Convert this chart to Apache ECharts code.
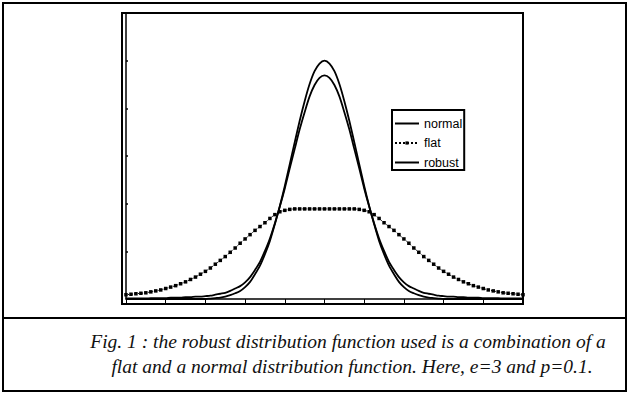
<!DOCTYPE html>
<html>
<head>
<meta charset="utf-8">
<script src="https://cdn.jsdelivr.net/npm/echarts@6/dist/echarts.min.js"></script>
<style>
  html, body { margin: 0; padding: 0; background: #fff; }
  #main { width: 629px; height: 394px; }
</style>
</head>
<body>
<div id="main"></div>
<script>
// x positions (units of the hidden x axis), step 0.125
const xValues = [
  -5, -4.875, -4.75, -4.625, -4.5, -4.375, -4.25, -4.125, -4, -3.875, -3.75, -3.625, -3.5, -3.375, -3.25, -3.125,
  -3, -2.875, -2.75, -2.625, -2.5, -2.375, -2.25, -2.125, -2, -1.875, -1.75, -1.625, -1.5, -1.375, -1.25, -1.125,
  -1, -0.875, -0.75, -0.625, -0.5, -0.375, -0.25, -0.125, 0,
  0.125, 0.25, 0.375, 0.5, 0.625, 0.75, 0.875, 1, 1.125, 1.25, 1.375, 1.5, 1.625, 1.75, 1.875,
  2, 2.125, 2.25, 2.375, 2.5, 2.625, 2.75, 2.875, 3, 3.125, 3.25, 3.375, 3.5, 3.625, 3.75, 3.875,
  4, 4.125, 4.25, 4.375, 4.5, 4.625, 4.75, 4.875, 5
];

const normalValues = [
  0, 0, 0, 0, 0, 0, 0, 0, 0, 0, 0, 0, 0, 0, 0, 0, 0,
  0.01, 0.02, 0.03, 0.05, 0.08, 0.12, 0.17, 0.25, 0.36, 0.52, 0.70, 0.94, 1.22, 1.57, 1.95,
  2.37, 2.83, 3.29, 3.74, 4.15, 4.51, 4.78, 4.94,
  5.00,
  4.94, 4.78, 4.51, 4.15, 3.74, 3.29, 2.83, 2.37,
  1.95, 1.57, 1.22, 0.94, 0.70, 0.52, 0.36, 0.25, 0.17, 0.12, 0.08, 0.05, 0.03, 0.02, 0.01,
  0, 0, 0, 0, 0, 0, 0, 0, 0, 0, 0, 0, 0, 0, 0, 0, 0
];

const flatValues = [
  0.09, 0.10, 0.11, 0.12, 0.13, 0.15, 0.17, 0.19, 0.22, 0.25, 0.28, 0.32, 0.36, 0.41, 0.46, 0.52,
  0.58, 0.65, 0.73, 0.81, 0.89, 0.98, 1.07, 1.17, 1.26, 1.35, 1.44, 1.52, 1.60, 1.69, 1.77, 1.83,
  1.86, 1.88, 1.89, 1.89, 1.89, 1.89, 1.89, 1.89, 1.89,
  1.89, 1.89, 1.89, 1.89, 1.89, 1.89, 1.88, 1.86, 1.83, 1.77, 1.69, 1.60, 1.52, 1.44, 1.35,
  1.26, 1.17, 1.07, 0.98, 0.89, 0.81, 0.73, 0.65, 0.58, 0.52, 0.46, 0.41, 0.36, 0.32, 0.28, 0.25,
  0.22, 0.19, 0.17, 0.15, 0.13, 0.12, 0.11, 0.10, 0.09
];

const robustValues = [
  0.01, 0.01, 0.01, 0.01, 0.01, 0.02, 0.02, 0.02, 0.02, 0.03, 0.03, 0.03, 0.04, 0.04, 0.05, 0.05,
  0.06, 0.07, 0.09, 0.11, 0.13, 0.17, 0.22, 0.27, 0.35, 0.46, 0.61, 0.78, 1.01, 1.27, 1.59, 1.94,
  2.32, 2.74, 3.15, 3.56, 3.92, 4.25, 4.49, 4.64, 4.69,
  4.64, 4.49, 4.25, 3.92, 3.56, 3.15, 2.74, 2.32, 1.94, 1.59, 1.27, 1.01, 0.78, 0.61, 0.46,
  0.35, 0.27, 0.22, 0.17, 0.13, 0.11, 0.09, 0.07, 0.06, 0.05, 0.05, 0.04, 0.04, 0.03, 0.03, 0.03,
  0.02, 0.02, 0.02, 0.02, 0.01, 0.01, 0.01, 0.01, 0.01
];

const seriesNames = ['normal', 'flat', 'robust'];
const captionLines = [
  'Fig. 1 : the robust distribution function used is a combination of a',
  'flat and a normal distribution function. Here, e=3 and p=0.1.'
];

function pairs(ys) {
  return xValues.map((x, i) => [x, ys[i]]);
}

const captionFont = 'italic 19.5px "Liberation Serif", "Times New Roman", serif';

const chart = echarts.init(document.getElementById('main'), null, {renderer: 'svg'});

chart.setOption({
  animation: false,
  backgroundColor: '#fff',
  grid: {left: 126, right: 106, top: 13, bottom: 95},
  xAxis: {
    type: 'value',
    min: -5,
    max: 5,
    interval: 1,
    axisLine: {show: true, onZero: false, lineStyle: {color: '#000', width: 1.5}},
    axisTick: {show: true, inside: false, length: 4, lineStyle: {color: '#000', width: 1}},
    axisLabel: {show: false},
    splitLine: {show: false}
  },
  yAxis: {
    type: 'value',
    min: 0,
    max: 6,
    interval: 1,
    axisLine: {show: true, onZero: false, lineStyle: {color: '#000', width: 1.5}},
    axisTick: {show: true, inside: true, length: 2, lineStyle: {color: '#000', width: 1.5}},
    axisLabel: {show: false},
    splitLine: {show: false}
  },
  legend: {
    data: [
      {name: seriesNames[0], itemStyle: {opacity: 0}},
      {name: seriesNames[1]},
      {name: seriesNames[2], itemStyle: {opacity: 0}}
    ],
    orient: 'vertical',
    left: 392,
    top: 110,
    padding: [7, 2, 1, 2],
    itemGap: 6.5,
    itemWidth: 24,
    itemHeight: 4,
    borderColor: '#000',
    borderWidth: 2,
    selectedMode: false,
    textStyle: {fontFamily: 'Liberation Sans, Arial, sans-serif', fontSize: 12.5, color: '#000'}
  },
  series: [
    {
      name: seriesNames[0],
      type: 'line',
      data: pairs(normalValues),
      symbol: 'none',
      smooth: 0.3,
      lineStyle: {color: '#000', width: 1.8},
      itemStyle: {color: '#000'},
      z: 3
    },
    {
      name: seriesNames[1],
      type: 'line',
      data: pairs(flatValues),
      symbol: 'rect',
      symbolSize: 3.5,
      showAllSymbol: true,
      smooth: 0.3,
      lineStyle: {color: '#000', width: 1, type: 'dotted'},
      itemStyle: {color: '#000'},
      z: 2
    },
    {
      name: seriesNames[2],
      type: 'line',
      data: pairs(robustValues),
      symbol: 'none',
      smooth: 0.3,
      lineStyle: {color: '#000', width: 1.8},
      itemStyle: {color: '#000'},
      z: 3
    }
  ],
  graphic: [
    // outer figure border
    {type: 'rect', shape: {x: 3, y: 3, width: 623, height: 388}, style: {fill: 'none', stroke: '#000', lineWidth: 2}, silent: true},
    // separator between plot and caption
    {type: 'line', shape: {x1: 3, y1: 318, x2: 626, y2: 318}, style: {stroke: '#000', lineWidth: 2}, silent: true},
    // plot area frame
    {type: 'rect', shape: {x: 122, y: 13, width: 401, height: 291}, style: {fill: 'none', stroke: '#000', lineWidth: 2}, silent: true},
    {
      type: 'text', x: 348, y: 341, silent: true,
      style: {text: captionLines[0], fill: '#111', font: captionFont, align: 'center', verticalAlign: 'middle'}
    },
    {
      type: 'text', x: 352, y: 366, silent: true,
      style: {text: captionLines[1], fill: '#111', font: captionFont, align: 'center', verticalAlign: 'middle'}
    }
  ]
});
</script>
</body>
</html>
